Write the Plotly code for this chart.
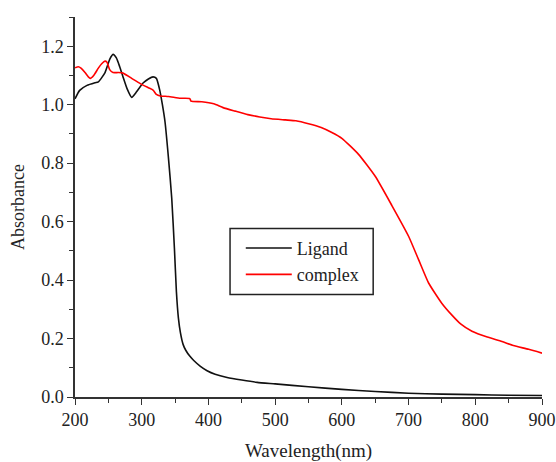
import plotly.graph_objects as go

# Ligand spectrum (wavelength nm, absorbance)
ligand_wl = [200, 207, 218, 230, 235, 245, 252, 257, 262, 267, 272, 278, 285, 292, 302, 310, 317,
             322, 327, 331, 335, 340, 345, 349, 352, 355, 358, 362, 366, 372, 378, 388, 398, 410,
             428, 450, 473, 500, 550, 600, 650, 700, 750, 800, 850, 900]
ligand_abs = [1.02, 1.049, 1.066, 1.075, 1.078, 1.11, 1.155, 1.172, 1.16, 1.13, 1.095, 1.055, 1.025,
              1.043, 1.074, 1.088, 1.095, 1.09, 1.05, 1.0, 0.94, 0.82, 0.68, 0.51, 0.36, 0.27, 0.22,
              0.18, 0.16, 0.14, 0.125, 0.105, 0.09, 0.078, 0.067, 0.058, 0.05, 0.045, 0.035, 0.026,
              0.019, 0.013, 0.01, 0.008, 0.006, 0.005]

# Complex spectrum
complex_wl = [200, 205, 209, 215, 220, 223, 228, 235, 240, 245, 248, 252, 257, 265, 272, 285, 298,
              310, 317, 322, 328, 340, 358, 372, 374, 390, 408, 422, 440, 459, 477, 494, 515, 531,
              550, 569, 585, 600, 625, 650, 675, 700, 715, 730, 750, 765, 778, 795, 818, 840, 857,
              880, 900]
complex_abs = [1.126, 1.13, 1.125, 1.11, 1.095, 1.09, 1.1, 1.125, 1.14, 1.149, 1.145, 1.12, 1.11,
               1.11, 1.108, 1.09, 1.072, 1.058, 1.05, 1.035, 1.03, 1.028, 1.022, 1.021, 1.012, 1.01,
               1.003, 0.99, 0.978, 0.966, 0.958, 0.952, 0.948, 0.945, 0.935, 0.922, 0.905, 0.885,
               0.83, 0.755, 0.655, 0.55, 0.47, 0.39, 0.32, 0.28, 0.25, 0.225, 0.205, 0.19, 0.176,
               0.163, 0.15]

font_family = "Liberation Serif, Times New Roman, serif"

fig = go.Figure()
fig.add_trace(go.Scatter(x=ligand_wl, y=ligand_abs, mode="lines", name="Ligand",
                         line=dict(color="#111111", width=1.6, shape="spline", smoothing=0.5)))
fig.add_trace(go.Scatter(x=complex_wl, y=complex_abs, mode="lines", name="complex",
                         line=dict(color="#ff0000", width=1.6, shape="spline", smoothing=0.5)))

axis_common = dict(
    showline=True, linecolor="#333333", linewidth=1.5,
    showgrid=False, zeroline=False, automargin=False,
    ticks="outside", ticklen=6, tickwidth=1.3, tickcolor="#333333",
    tickfont=dict(family=font_family, size=18, color="#222222"),
)

fig.update_xaxes(
    range=[200, 900], dtick=100, tick0=200,
    minor=dict(dtick=50, ticks="outside", ticklen=4, tickwidth=1.2, tickcolor="#333333"),
    title=dict(text="Wavelength(nm)", font=dict(family=font_family, size=19, color="#222222"),
               standoff=22),
    **axis_common,
)
fig.update_yaxes(
    range=[0, 1.3], dtick=0.2, tick0=0, tickformat=".1f",
    minor=dict(dtick=0.1, ticks="outside", ticklen=4, tickwidth=1.2, tickcolor="#333333"),
    title=dict(text="Absorbance", font=dict(family=font_family, size=18, color="#222222"),
               standoff=12),
    **axis_common,
)

# legend frame drawn as a box (paper coordinates)
fig.add_shape(type="rect", xref="paper", yref="paper", x0=0.332, x1=0.6385, y0=0.270, y1=0.4437,
              line=dict(color="#222222", width=1.5), fillcolor="white", layer="above")

fig.update_layout(
    width=556, height=462,
    margin=dict(l=75, r=14, t=17, b=65),
    paper_bgcolor="white", plot_bgcolor="white",
    font=dict(family=font_family, size=18, color="#222222"),
    showlegend=True,
    legend=dict(x=0.355, y=0.44, xanchor="left", yanchor="top",
                bgcolor="rgba(0,0,0,0)", borderwidth=0,
                font=dict(family=font_family, size=18, color="#222222"),
                tracegroupgap=0, itemwidth=46),
)

fig.write_html("out.html",
               config={"displayModeBar": False},
               post_script="document.body.style.margin='0';document.body.style.overflow='hidden';")
